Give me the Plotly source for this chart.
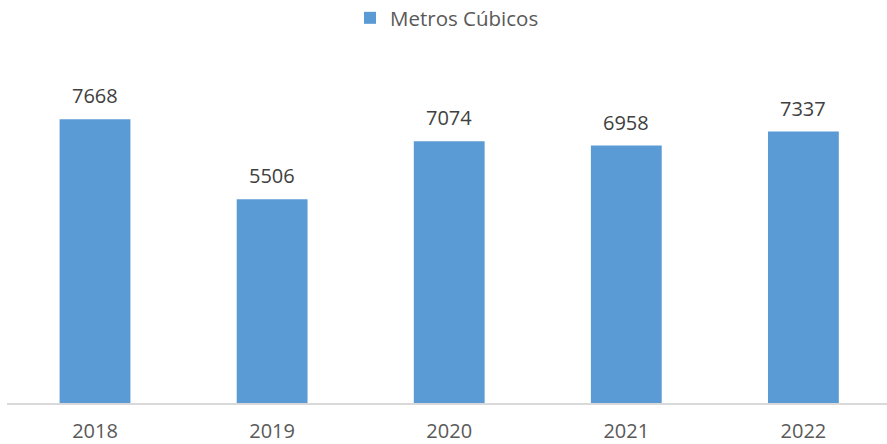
import plotly.graph_objects as go

years = ["2018", "2019", "2020", "2021", "2022"]
values = [7668, 5506, 7074, 6958, 7337]
series_name = "Metros Cúbicos"

FONT = "Open Sans"
bar_color = "#5B9BD5"

fig = go.Figure()
fig.add_trace(go.Bar(
    x=years, y=values, name=series_name,
    marker=dict(color=bar_color, line=dict(width=0)),
    width=0.40,
    showlegend=True,
))

for i, v in enumerate(values):
    fig.add_annotation(x=i, y=v, xref="x", yref="y", text=str(v), showarrow=False,
                       yanchor="bottom", yshift=8,
                       font=dict(family=FONT, size=20, color="#404040"))

fig.update_layout(
    width=887, height=444,
    margin=dict(l=7, r=0, t=70, b=39),
    paper_bgcolor="white", plot_bgcolor="white",
    showlegend=True,
    legend=dict(orientation="h", x=(350 - 7) / 880, xanchor="left",
                yref="container", y=1 - 18/444, yanchor="middle",
                font=dict(family=FONT, size=20.5, color="#595959")),
    xaxis=dict(type="category", range=[-0.497, 4.472],
               showline=True, linecolor="#D9D9D9", linewidth=2,
               showgrid=False, ticks="", ticklabelstandoff=9,
               tickfont=dict(family=FONT, size=20, color="#595959")),
    yaxis=dict(range=[0, 9000], visible=False, showgrid=False),
)

fig.write_html("out.html")
